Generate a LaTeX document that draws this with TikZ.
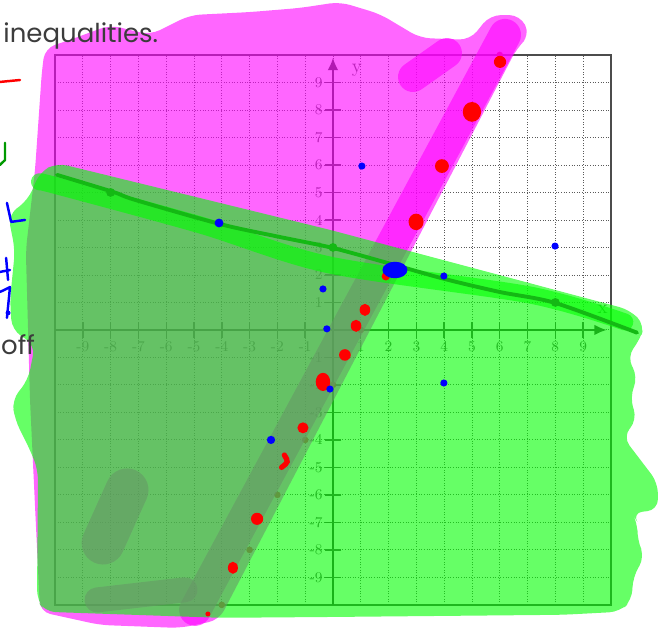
\documentclass[tikz,border=0pt]{standalone}
\usepackage{fontspec}
\newfontfamily\handfont{Poppins}
\usetikzlibrary{arrows.meta}
\definecolor{hlmagenta}{RGB}{255,0,255}
\definecolor{hlgreen}{RGB}{0,255,0}
\definecolor{pengreen}{RGB}{20,185,20}
\definecolor{gridgray}{RGB}{90,90,90}
\definecolor{txtgray}{RGB}{60,60,60}

\begin{document}
\begin{tikzpicture}[x=0.556cm, y=0.55cm,
  gridline/.style={gridgray, densely dotted, line width=0.5pt},
  axisline/.style={black!75, line width=1.1pt, -{Latex[length=7pt,width=6pt]}},
  tickline/.style={black!70, line width=0.8pt},
  ticklbl/.style={font=\fontsize{8.5}{10}\selectfont, text=black!65, inner sep=1pt},
  magfill/.style={fill=hlmagenta, fill opacity=0.6, rounded corners=6pt},
  magpen/.style={draw=hlmagenta, draw opacity=0.6, line cap=round},
  grnfill/.style={fill=hlgreen, fill opacity=0.6, rounded corners=6pt},
  grnpen/.style={draw=hlgreen, draw opacity=0.6, line cap=round, line join=round},
  reddot/.style={fill=red},
  bluedot/.style={fill=blue},
  ink/.style={line width=1.4pt, line cap=round, line join=round}]
  \useasboundingbox (-11.98,-10.91) rectangle (11.73,12.0);

  % Grid
  \foreach \k in {-9,...,9} {
    \draw[gridline] (\k,-10) -- (\k,10);
    \draw[gridline] (-10,\k) -- (10,\k);
  }
  \draw[black!70, line width=0.9pt] (-10,-10) rectangle (10,10);

  % Axes
  \draw[axisline] (-10,0) -- (9.85,0);
  \draw[axisline] (0,-10) -- (0,9.9);
  \node[ticklbl, font=\fontsize{11}{12}\selectfont] (xname) at (9.7,0.75) {x};
  \node[ticklbl, font=\fontsize{11}{12}\selectfont] (yname) at (0.86,9.45) {y};
  \foreach \k in {-9,...,-1,1,2,...,9} {
    \draw[tickline] (\k,-0.3) -- (\k,0.3);
    \draw[tickline] (-0.3,\k) -- (0.3,\k);
    \node[ticklbl] (xt\k) at (\k,-0.6) {\k};
    \node[ticklbl, anchor=east] (yt\k) at (-0.3,\k) {\k};
  }

  % Plotted points of the steep line
  \foreach \k in {-4,...,6}
    \fill[red!85!black] (\k,{2*\k-2}) circle (0.12);

  % Magenta highlighter
  \fill[magfill] (-10.47,9.45) -- (-10.36,10.25) -- (-9.46,10.55) -- (-8.02,11.09)
    -- (-6.58,10.73) -- (-5.14,11.45) -- (-2.99,11.56) -- (-1.19,11.71)
    -- (0.25,11.93) -- (1.69,11.49) -- (3.13,10.62) -- (4.93,10.55)
    -- (5.65,11.45) -- (6.73,11.45) -- (7.09,10.73) -- (6.62,10.25)
    -- (-4.10,-10.55) -- (-5.50,-10.84) -- (-8.38,-10.73) -- (-10.54,-10.25)
    -- (-10.90,-2.55) -- (-11.05,2.9) -- (-10.72,5.8) -- cycle;
  \draw[magpen, line width=0.64cm] (6.19,10.73) -- (-4.96,-10.18);
  \draw[magpen, line width=0.6cm] (2.88,9.2) -- (4.1,10.07);
  \draw[magpen, line width=0.86cm] (-8.27,-7.75) -- (-7.41,-5.82);
  \draw[magpen, line width=0.5cm] (-8.49,-9.82) -- (-5.32,-9.45);

  % Green highlighter
  \fill[grnfill] (-10.54,5.75) -- (-9.93,6.07) -- (-0.11,3.64) -- (10.68,0.73)
    -- (11.22,0.18) -- (11.04,-0.36) -- (10.58,-0.98) -- (10.97,-1.71)
    -- (10.68,-2.44) -- (10.94,-3.27) -- (10.43,-3.89) -- (11.69,-5.56)
    -- (11.69,-6.55) -- (10.76,-6.65) -- (10.97,-7.02) -- (10.94,-7.64)
    -- (11.22,-8.25) -- (10.79,-8.98) -- (10.76,-9.82) -- (10.32,-10.25)
    -- (8.27,-10.36) -- (-0.11,-10.44) -- (-4.06,-10.47) -- (-10.36,-10.25)
    -- (-10.65,-9.82) -- (-10.61,-5.09) -- (-10.90,-4.36) -- (-11.44,-3.27)
    -- (-11.55,-2.55) -- (-10.97,-1.82) -- (-10.72,-0.55) -- (-11.55,0)
    -- (-11.62,1.09) -- (-11.44,2.91) -- (-11.69,4.18) -- (-10.97,4.73) -- cycle;
  \draw[grnpen, line width=0.34cm] plot[smooth] coordinates {(-10.54,5.38) (-9.93,5.24)
    (-4.78,3.82) (-0.11,2.36) (7.09,1.27) (10.5,0.29)};

  % Boundary line drawn by hand
  \draw[pengreen, line width=2.2pt, line cap=round] plot[smooth] coordinates {(-9.93,5.64)
    (-7.91,5.02) (-7.12,4.73) (-4.06,3.85) (-1.91,3.38) (0,2.98) (2.23,2.36)
    (4.03,1.85) (6.0,1.38) (8.0,0.98) (10.94,-0.1)};
  \foreach \p in {(-8,5),(0,3),(8,1)}
    \fill[pengreen] \p circle (0.16);

  % Red test points
  \fill[reddot] (1.9,1.95) circle (0.15);
  \fill[reddot] (6.01,9.75) ellipse (0.22 and 0.22);
  \fill[reddot] (5.0,7.93) ellipse (0.33 and 0.36);
  \fill[reddot] (3.92,5.96) ellipse (0.25 and 0.25);
  \fill[reddot] (2.99,3.93) ellipse (0.27 and 0.3);
  \fill[reddot] (1.15,0.73) ellipse (0.19 and 0.22);
  \fill[reddot] (0.83,0.15) ellipse (0.19 and 0.22);
  \fill[reddot] (0.43,-0.91) ellipse (0.21 and 0.21);
  \fill[reddot] (-0.36,-1.89) ellipse (0.26 and 0.33);
  \fill[reddot] (-1.08,-3.56) ellipse (0.2 and 0.2);
  \fill[reddot] (-2.73,-6.87) ellipse (0.22 and 0.22);
  \fill[reddot] (-3.6,-8.65) ellipse (0.18 and 0.22);
  \fill[reddot] (-4.5,-10.33) circle (0.09);
  \draw[red, line width=3pt, line cap=round] (-1.85,-5.0) .. controls (-1.6,-4.8) .. (-1.75,-4.55);

  % Blue test points
  \fill[bluedot] (2.23,2.18) ellipse (0.45 and 0.3);
  \foreach \p in {(1.04,5.96),(7.99,3.05),(3.99,1.96),(-0.36,1.49),(-0.22,0.04),
                  (-0.11,-2.15),(3.99,-1.93)}
    \fill[bluedot] \p circle (0.13);
  \fill[bluedot] (-4.1,3.89) circle (0.16);
  \fill[bluedot] (-2.23,-4.0) circle (0.15);

  % Margin notes
  \node[font=\handfont\fontsize{14.8}{16}\selectfont, text=txtgray, anchor=base west,
        inner sep=0] (title) at (-11.87,10.44) {inequalities.};
  \node[font=\handfont\fontsize{14.8}{16}\selectfont, text=txtgray, anchor=base west,
        inner sep=0] (offtxt) at (-11.95,-0.91) {off};
  \draw[ink, red] (-11.98,9.02) -- (-11.26,9.09);
  \draw[ink, green!60!black] (-11.8,6.8) -- (-11.8,6.18) -- (-11.98,6.0);
  \draw[ink, blue] (-11.73,4.62) -- (-11.58,3.93) -- (-11.08,4.0);
  \draw[ink, blue] (-11.98,2.11) -- (-11.62,2.18);
  \draw[ink, blue] (-11.76,2.62) -- (-11.69,1.82);
  \draw[ink, blue] (-11.98,1.38) -- (-11.62,1.56) -- (-11.73,0.44);
  \fill[bluedot] (-11.69,0.62) circle (0.09);
\end{tikzpicture}
\end{document}
